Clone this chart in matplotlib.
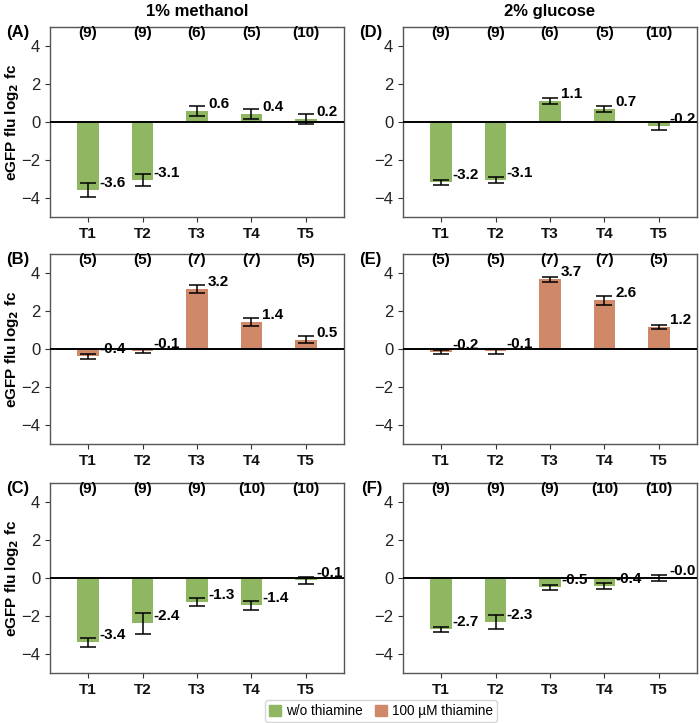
import numpy as np
import matplotlib
matplotlib.use("Agg")
import matplotlib.pyplot as plt
from matplotlib.patches import Patch

plt.rcParams['font.family'] = ['Liberation Sans', 'DejaVu Sans']

targets = ['T1', 'T2', 'T3', 'T4', 'T5']

# mean log2 fold change and error per panel
vals_A = [-3.56, -3.06, 0.60, 0.42, 0.18]
errs_A = [0.37, 0.30, 0.26, 0.24, 0.26]
vals_B = [-0.39, -0.10, 3.17, 1.41, 0.49]
errs_B = [0.13, 0.12, 0.20, 0.22, 0.18]
vals_C = [-3.39, -2.39, -1.28, -1.44, -0.12]
errs_C = [0.23, 0.54, 0.21, 0.22, 0.19]
vals_D = [-3.18, -3.06, 1.10, 0.70, -0.19]
errs_D = [0.15, 0.15, 0.15, 0.15, 0.21]
vals_E = [-0.16, -0.13, 3.66, 2.56, 1.16]
errs_E = [0.12, 0.12, 0.12, 0.25, 0.10]
vals_F = [-2.70, -2.33, -0.49, -0.44, -0.02]
errs_F = [0.14, 0.36, 0.14, 0.16, 0.16]

n_AD = [9, 9, 6, 5, 10]
n_BE = [5, 5, 7, 7, 5]
n_CF = [9, 9, 9, 10, 10]

green = '#8fb660'
orange = '#cf8868'

panels = [
    ('(A)', vals_A, errs_A, n_AD, green),
    ('(D)', vals_D, errs_D, n_AD, green),
    ('(B)', vals_B, errs_B, n_BE, orange),
    ('(E)', vals_E, errs_E, n_BE, orange),
    ('(C)', vals_C, errs_C, n_CF, green),
    ('(F)', vals_F, errs_F, n_CF, green),
]

fig = plt.figure(figsize=(7, 7.23), dpi=100)
W, H = 700, 723
lefts = [50, 403]
tops = [27, 254, 483]
aw, ah = 294, 190

x = np.arange(len(targets))
for k, (tag, vals, errs, ns, col) in enumerate(panels):
    r, c = divmod(k, 2)
    ax = fig.add_axes([lefts[c] / W, 1 - (tops[r] + ah) / H, aw / W, ah / H])
    ax.bar(x, vals, width=0.4, color=col, zorder=2)
    ax.errorbar(x, vals, yerr=errs, fmt='none', ecolor='black',
                elinewidth=1.1, capsize=6, capthick=1.1, zorder=3)
    ax.axhline(0, color='black', lw=1.4, zorder=4)
    for i, v in enumerate(vals):
        ax.text(i + 0.2, v, f'{v:.1f}', ha='left', va='bottom',
                fontsize=11, fontweight='bold', zorder=5)
        ax.text(i, 4.7, f'({ns[i]})', ha='center', va='center',
                fontsize=11, fontweight='bold')
    ax.set_xlim(-0.7, 4.7)
    ax.set_ylim(-5, 5)
    ax.set_yticks([-4, -2, 0, 2, 4])
    ax.set_xticks(x)
    ax.set_xticklabels(targets, fontweight='bold', fontsize=11)
    ax.tick_params(axis='y', labelsize=12, colors='#333333', labelcolor='#222222')
    ax.tick_params(axis='x', colors='#333333', labelcolor='#111111')
    for s in ax.spines.values():
        s.set_color('#555555')
        s.set_linewidth(1.0)
    if c == 0:
        ax.set_ylabel('eGFP flu log$_\\mathbf{2}$ fc', fontweight='bold', fontsize=11)
        ax.yaxis.set_label_coords(-29 / aw, 0.5)
    fig.text((lefts[c] - 21) / W, 1 - (tops[r] + 5) / H, tag,
             ha='right', va='center', fontsize=12, fontweight='bold')
    if r == 0:
        ax.set_title('1% methanol' if c == 0 else '2% glucose',
                     fontweight='bold', fontsize=12, pad=8)

handles = [Patch(color=green, label='w/o thiamine'),
           Patch(color=orange, label='100 µM thiamine')]
fig.legend(handles=handles, loc='center', bbox_to_anchor=(381 / W, 1 - 711 / H),
           ncol=2, fontsize=9.8, frameon=True, handlelength=0.9, handleheight=0.9,
           handletextpad=0.35, columnspacing=0.9, edgecolor='#cccccc', fancybox=True,
           borderpad=0.3, borderaxespad=0.2)

fig.savefig('out.png', dpi=100)
